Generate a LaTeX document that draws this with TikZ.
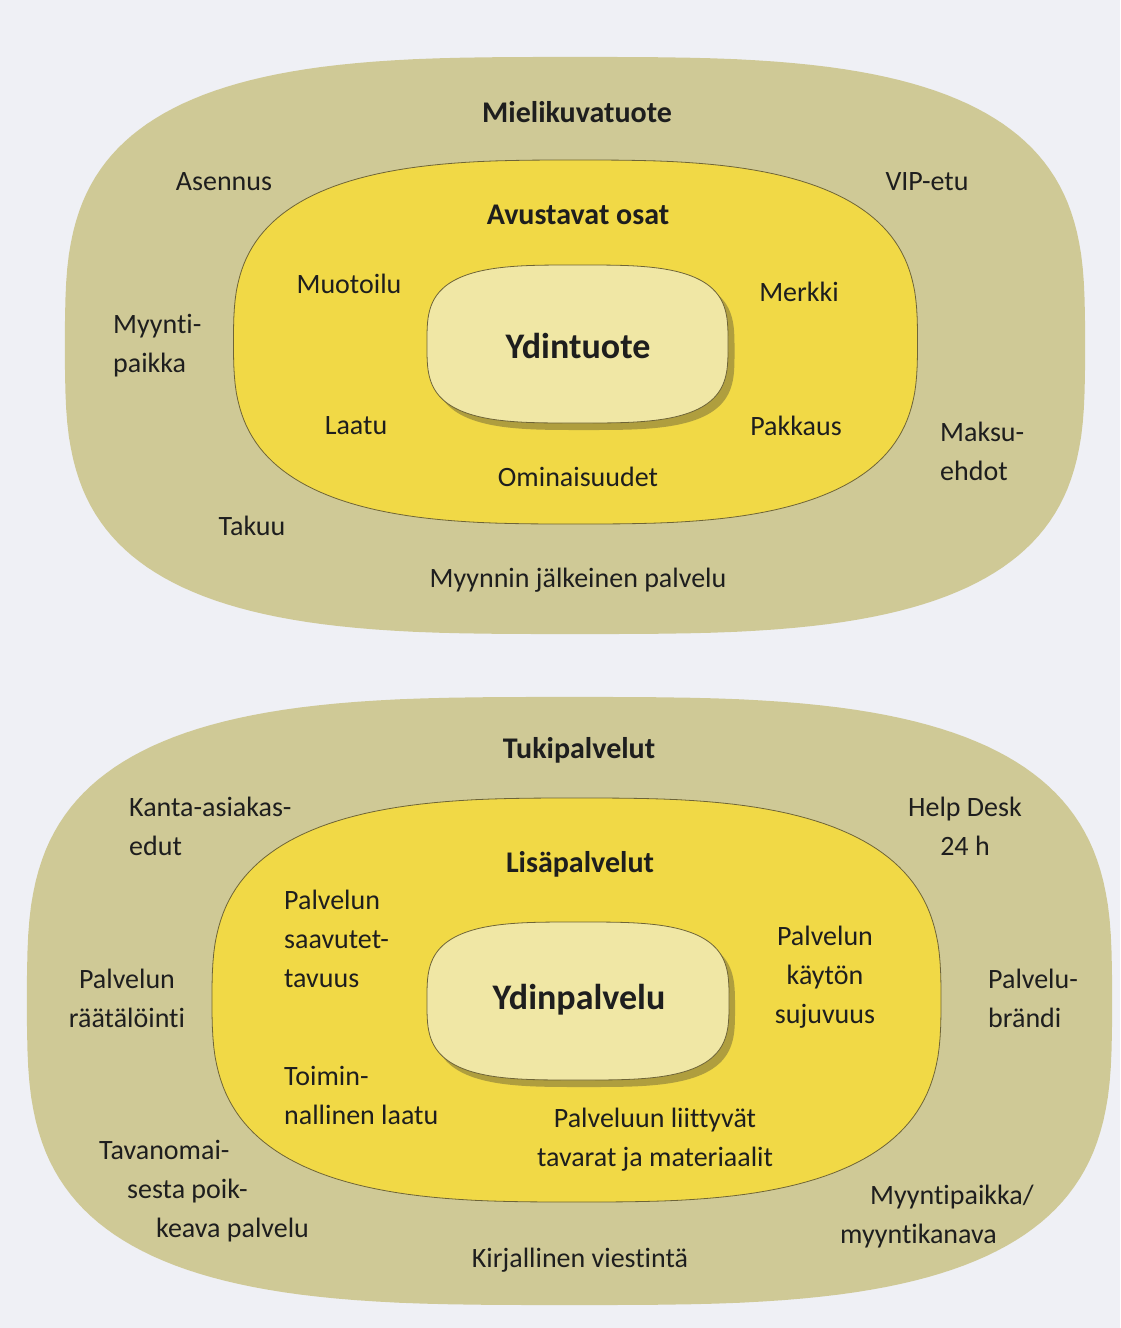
\documentclass[tikz,border=0pt]{standalone}
\usepackage{fontspec}
\setmainfont{Carlito}[Ligatures={NoCommon}]
\usepackage{xcolor}
\usepackage{tikz}

\definecolor{pagebg}{RGB}{239,240,245}
\definecolor{outertan}{RGB}{207,201,150}
\definecolor{midyellow}{RGB}{241,217,70}
\definecolor{coreyellow}{RGB}{240,231,165}
\definecolor{rimline}{RGB}{110,100,55}
\definecolor{inktext}{RGB}{30,30,30}

\begin{document}
\begin{tikzpicture}[
    x=1pt, y=-1pt,
    label/.style = {inner sep=0pt, text=inktext, font=\fontsize{28}{39}\selectfont},
    multi/.style = {label, align=center},
    leftlines/.style = {label, align=left, anchor=west},
    layer/.style = {label, font=\fontsize{30}{39}\selectfont\bfseries},
    core/.style = {label, font=\fontsize{36}{40}\selectfont\bfseries},
    ring/.style = {draw=rimline, line width=0.8pt},
    coreshadow/.style = {fill=rimline, opacity=0.5}
]
    \useasboundingbox (0,0) rectangle (1120,1328);
    \fill[pagebg] (0,0) rectangle (1120,1328);

    % product diagram
    \fill[outertan] plot[domain=1:359, samples=180, variable=\t]
        ({575+510*sign(cos(\t))*abs(cos(\t))^0.625}, {345.5+288.5*sign(sin(\t))*abs(sin(\t))^0.625}) -- cycle;
    \path[ring, fill=midyellow] plot[domain=1:359, samples=180, variable=\t]
        ({575.5+342*sign(cos(\t))*abs(cos(\t))^0.69}, {342+182*sign(sin(\t))*abs(sin(\t))^0.69}) -- cycle;
    \fill[coreshadow] plot[domain=1:359, samples=180, variable=\t]
        ({584+150.5*sign(cos(\t))*abs(cos(\t))^0.6}, {351+79*sign(sin(\t))*abs(sin(\t))^0.6}) -- cycle;
    \path[ring, fill=coreyellow] plot[domain=1:359, samples=180, variable=\t]
        ({577.5+150.5*sign(cos(\t))*abs(cos(\t))^0.6}, {344+79*sign(sin(\t))*abs(sin(\t))^0.6}) -- cycle;

    % service diagram
    \fill[outertan] plot[domain=1:359, samples=180, variable=\t]
        ({569.5+542.5*sign(cos(\t))*abs(cos(\t))^0.625}, {1001+304*sign(sin(\t))*abs(sin(\t))^0.625}) -- cycle;
    \path[ring, fill=midyellow] plot[domain=1:359, samples=180, variable=\t]
        ({576.5+364.5*sign(cos(\t))*abs(cos(\t))^0.69}, {1000+202*sign(sin(\t))*abs(sin(\t))^0.69}) -- cycle;
    \fill[coreshadow] plot[domain=1:359, samples=180, variable=\t]
        ({584+151*sign(cos(\t))*abs(cos(\t))^0.6}, {1008+79*sign(sin(\t))*abs(sin(\t))^0.6}) -- cycle;
    \path[ring, fill=coreyellow] plot[domain=1:359, samples=180, variable=\t]
        ({578+151*sign(cos(\t))*abs(cos(\t))^0.6}, {1001+79*sign(sin(\t))*abs(sin(\t))^0.6}) -- cycle;

    % product labels
    \node[layer] (mielikuva) at (577,112) {Mielikuvatuote};
    \node[label] (asennus) at (224,182) {Asennus};
    \node[label] (vipetu) at (927,182) {VIP-etu};
    \node[layer] (avustavat) at (578,215) {Avustavat osat};
    \node[label] (muotoilu) at (349,284) {Muotoilu};
    \node[label] (merkki) at (799,292) {Merkki};
    \node[leftlines] (myyntipaikka) at (113,346) {Myynti-\\paikka};
    \node[core] (ydintuote) at (578,346) {Ydintuote};
    \node[label] (laatu) at (356,426) {Laatu};
    \node[label] (pakkaus) at (796,426) {Pakkaus};
    \node[leftlines] (maksuehdot) at (940,451) {Maksu-\\ehdot};
    \node[label] (ominaisuudet) at (578,477) {Ominaisuudet};
    \node[label] (takuu) at (252,526) {Takuu};
    \node[label] (jalkeinen) at (578,580) {Myynnin jälkeinen palvelu};

    % service labels
    \node[layer] (tuki) at (579,750) {Tukipalvelut};
    \node[leftlines] (kanta) at (129,826) {Kanta-asiakas-\\edut};
    \node[multi] (helpdesk) at (965,826) {Help Desk\\24 h};
    \node[layer] (lisa) at (580,864) {Lisäpalvelut};
    \node[leftlines] (saavutettavuus) at (284,939) {Palvelun\\saavutet-\\tavuus};
    \node[multi] (sujuvuus) at (825,977) {Palvelun\\käytön\\sujuvuus};
    \node[multi] (raatalointi) at (127,998) {Palvelun\\räätälöinti};
    \node[core] (ydinpalvelu) at (579,1000) {Ydinpalvelu};
    \node[leftlines] (brandi) at (988,998) {Palvelu-\\brändi};
    \node[leftlines] (toiminnallinen) at (284,1095) {Toimin-\\nallinen laatu};
    \node[multi] (materiaalit) at (655,1140) {Palveluun liittyvät\\tavarat ja materiaalit};
    \node[leftlines] (poikkeava) at (99,1191) {Tavanomai-\\\hspace*{28pt}sesta poik-\\\hspace*{57pt}keava palvelu};
    \node[leftlines] (myyntikanava) at (840,1217) {\hspace*{30pt}Myyntipaikka/\\myyntikanava};
    \node[label] (viestinta) at (580,1260) {Kirjallinen viestintä};
\end{tikzpicture}
\end{document}
